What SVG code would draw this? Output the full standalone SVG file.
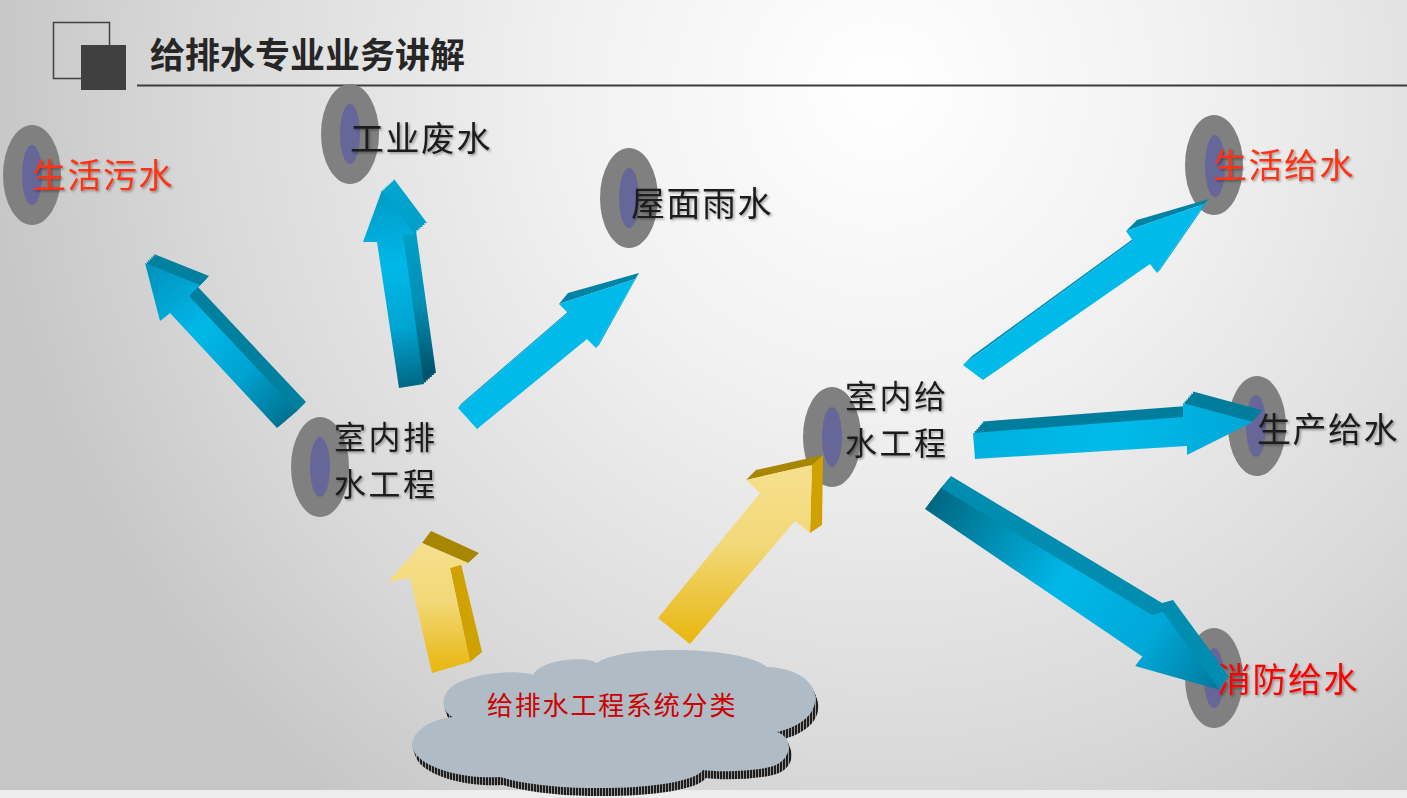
<svg xmlns="http://www.w3.org/2000/svg" xmlns:xlink="http://www.w3.org/1999/xlink" width="1407" height="798" viewBox="0 0 1407 798">
<defs>
<style>
.ring{fill:#808080}
.hole{fill:#666699}
.lbl{font-family:"Noto Sans CJK SC","Noto Sans",sans-serif;font-size:34px;letter-spacing:1.5px;filter:url(#ts)}
.two{font-size:32px;letter-spacing:2.5px}
.dk{fill:#1c1c1c}
.rd{fill:#ff3212}
.pr{fill:#ff0000}
.ytop{fill:#a88600}
.yside{fill:#cfa200}
.yfront{fill:url(#gY)}
.cyan{fill:#00bbea}
</style>
<radialGradient id="bg" gradientUnits="userSpaceOnUse" cx="880" cy="90" r="900">
<stop offset="0" stop-color="#ffffff"/>
<stop offset="0.35" stop-color="#f1f1f1"/>
<stop offset="0.75" stop-color="#d9d9d9"/>
<stop offset="1" stop-color="#c6c6c6"/>
</radialGradient>
<filter id="ts" x="-10%" y="-20%" width="130%" height="150%">
<feDropShadow dx="1.5" dy="1.5" stdDeviation="1" flood-color="#000" flood-opacity="0.35"/>
</filter>
<pattern id="stripes" patternUnits="userSpaceOnUse" width="3" height="10">
<rect width="3" height="10" fill="#1e1e1e"/>
<rect x="2" width="1" height="10" fill="#9a9a9a"/>
</pattern>
<linearGradient id="gY" x1="0" y1="0" x2="0" y2="1">
<stop offset="0" stop-color="#f6e08e"/>
<stop offset="0.45" stop-color="#f2d878"/>
<stop offset="1" stop-color="#e8b60c"/>
</linearGradient>
<linearGradient id="gA" gradientUnits="userSpaceOnUse" x1="290" y1="420" x2="145" y2="263">
<stop offset="0" stop-color="#00708f"/>
<stop offset="0.3" stop-color="#00a2d0"/>
<stop offset="0.6" stop-color="#00b8e8"/>
<stop offset="1" stop-color="#0090bb"/>
</linearGradient>
<linearGradient id="gB" gradientUnits="userSpaceOnUse" x1="412" y1="388" x2="385" y2="185">
<stop offset="0" stop-color="#006580"/>
<stop offset="0.3" stop-color="#00a5d2"/>
<stop offset="0.6" stop-color="#00b8e8"/>
<stop offset="1" stop-color="#0099c5"/>
</linearGradient>
<linearGradient id="gBs" x1="0" y1="0" x2="0" y2="1">
<stop offset="0" stop-color="#00a8d2"/>
<stop offset="0.6" stop-color="#0092b8"/>
<stop offset="1" stop-color="#005068"/>
</linearGradient>
<linearGradient id="gE" gradientUnits="userSpaceOnUse" x1="975" y1="440" x2="1255" y2="430">
<stop offset="0" stop-color="#00b0de"/>
<stop offset="0.5" stop-color="#00bbea"/>
<stop offset="1" stop-color="#00a6d6"/>
</linearGradient>
<linearGradient id="gF" gradientUnits="userSpaceOnUse" x1="930" y1="495" x2="1220" y2="690">
<stop offset="0" stop-color="#00657f"/>
<stop offset="0.45" stop-color="#00b8e8"/>
<stop offset="0.75" stop-color="#00a8d8"/>
<stop offset="1" stop-color="#00789a"/>
</linearGradient>
<polygon id="pA" points="145,263 200,285 189,296 297,411 277,428 170,313 160,321"/>
<polygon id="pB" points="382,190 415,234 403,235 424,384 399,388 377,242 363,242"/>
<polygon id="pE" points="973,433 1183,417 1183,403 1253,422 1187,455 1187,446 975,459"/>
<polygon id="pF" points="941,488 1152,615 1163,612 1220,690 1135,666 1143,657 925,509"/>
<path id="cloud" d="M453,717 C440,712 438,690 462,681 C485,672 520,670 533,675 C540,660 585,655 597,663 C620,645 740,645 767,667 C800,668 818,685 815,702 C813,718 795,728 777,732 C795,738 792,762 770,767 C750,772 715,772 703,770 C690,790 560,795 500,777 C450,780 405,760 413,740 C418,725 440,718 453,717 Z"/>
</defs>

<g id="background">
<rect width="1407" height="798" fill="url(#bg)"/>
<rect y="790" width="1407" height="8" fill="#ededed"/>
</g>

<g id="header">
<rect x="53.5" y="22.5" width="56" height="56" fill="none" stroke="#404040" stroke-width="1.5"/>
<rect x="81" y="45" width="45" height="45" fill="#404040"/>
<line x1="137" y1="85.5" x2="1407" y2="85.5" stroke="#3c3c3c" stroke-width="2"/>
<text x="150" y="68" font-family="'Noto Sans CJK SC','Noto Sans',sans-serif" font-size="35" font-weight="bold" fill="#262626">给排水专业业务讲解</text>
</g>

<g id="node-shenghuowushui">
<ellipse class="ring" cx="32" cy="175" rx="29" ry="50"/>
<ellipse class="hole" cx="32" cy="175" rx="10" ry="30"/>
<text class="lbl rd" x="32" y="188">生活污水</text>
</g>
<g id="node-gongyefeishui">
<ellipse class="ring" cx="350" cy="134" rx="29" ry="50"/>
<ellipse class="hole" cx="350" cy="134" rx="10" ry="30"/>
<text class="lbl dk" x="350" y="151">工业废水</text>
</g>
<g id="node-wumianyushui">
<ellipse class="ring" cx="629" cy="198" rx="29" ry="50"/>
<ellipse class="hole" cx="629" cy="198" rx="10" ry="30"/>
<text class="lbl dk" x="631" y="216">屋面雨水</text>
</g>
<g id="node-shineipaishui">
<ellipse class="ring" cx="320" cy="467" rx="29" ry="50"/>
<ellipse class="hole" cx="320" cy="467" rx="10" ry="30"/>
<text class="lbl two dk"><tspan x="334" y="449">室内排</tspan><tspan x="334" y="496">水工程</tspan></text>
</g>
<g id="node-shineigeishui">
<ellipse class="ring" cx="832" cy="437" rx="29" ry="50"/>
<ellipse class="hole" cx="832" cy="437" rx="10" ry="30"/>
<text class="lbl two dk"><tspan x="845" y="408">室内给</tspan><tspan x="845" y="455">水工程</tspan></text>
</g>
<g id="node-shenghuogeishui">
<ellipse class="ring" cx="1214" cy="165" rx="29" ry="50"/>
<ellipse class="hole" cx="1215" cy="166" rx="10" ry="31"/>
<text class="lbl rd" x="1213" y="178">生活给水</text>
</g>
<g id="node-shengchangeishui">
<ellipse class="ring" cx="1257" cy="426" rx="29" ry="50"/>
<ellipse class="hole" cx="1256" cy="426" rx="10" ry="31"/>
<text class="lbl dk" x="1257" y="442">生产给水</text>
</g>
<g id="node-xiaofanggeishui">
<ellipse class="ring" cx="1214" cy="678" rx="29" ry="50"/>
<ellipse class="hole" cx="1214" cy="678" rx="10" ry="30"/>
<text class="lbl pr" x="1217" y="692">消防给水</text>
</g>
<g id="node-fenlei">
<g fill="url(#stripes)">
<use xlink:href="#cloud" x="0.75" y="2"/>
<use xlink:href="#cloud" x="1.5" y="4"/>
<use xlink:href="#cloud" x="2.25" y="6"/>
<use xlink:href="#cloud" x="3" y="8"/>
</g>
<use xlink:href="#cloud" fill="#afbbc5"/>
<text x="487" y="715" font-family="'Noto Sans CJK SC','Noto Sans',sans-serif" font-size="26" letter-spacing="1.8" fill="#cc0000">给排水工程系统分类</text>
</g>

<g id="connectors">
<g id="arrow-to-shenghuowushui">
<g fill="#00809f">
<use xlink:href="#pA" x="1.5" y="-1.5"/><use xlink:href="#pA" x="3" y="-3"/><use xlink:href="#pA" x="4.5" y="-4.5"/>
<use xlink:href="#pA" x="6" y="-6"/><use xlink:href="#pA" x="7.5" y="-7.5"/><use xlink:href="#pA" x="9" y="-9"/>
</g>
<use xlink:href="#pA" fill="url(#gA)"/>
</g>
<g id="arrow-to-gongyefeishui">
<g fill="url(#gBs)">
<use xlink:href="#pB" x="2" y="-1.8"/><use xlink:href="#pB" x="4" y="-3.7"/><use xlink:href="#pB" x="6" y="-5.5"/>
<use xlink:href="#pB" x="8" y="-7.3"/><use xlink:href="#pB" x="10" y="-9.2"/><use xlink:href="#pB" x="12" y="-11"/>
</g>
<use xlink:href="#pB" fill="url(#gB)"/>
</g>
<g id="arrow-to-wumianyushui">
<polygon points="559,304 568,293 639,273 635,279" fill="#0083a5"/>
<polygon points="458,408 461,404 570,310 568,313" fill="#0095bd"/>
<polygon points="635,279 639,273 599,345 596,348" fill="#00a8d5"/>
<polygon class="cyan" points="635,279 596,348 587,339 477,429 458,408 568,313 559,304"/>
</g>
<g id="arrow-to-shenghuogeishui">
<polygon points="1126,231 1137,220 1209,199 1204,204" fill="#0083a5"/>
<polygon points="963,365 972,356 1137,236 1133,241" fill="#0092b8"/>
<polygon points="1204,204 1209,199 1160,270 1157,273" fill="#00a8d5"/>
<polygon class="cyan" points="1204,204 1157,273 1150,264 983,380 963,365 1133,241 1126,231"/>
</g>
<g id="arrow-to-shengchangeishui">
<g fill="#007d9c">
<use xlink:href="#pE" x="1.7" y="-1.9"/><use xlink:href="#pE" x="3.3" y="-3.8"/><use xlink:href="#pE" x="5" y="-5.8"/>
<use xlink:href="#pE" x="6.7" y="-7.7"/><use xlink:href="#pE" x="8.3" y="-9.6"/><use xlink:href="#pE" x="10" y="-11.5"/>
</g>
<use xlink:href="#pE" fill="url(#gE)"/>
</g>
<g id="arrow-to-xiaofanggeishui">
<g fill="#008db0">
<use xlink:href="#pF" x="1.7" y="-2"/><use xlink:href="#pF" x="3.3" y="-4"/><use xlink:href="#pF" x="5" y="-6"/>
<use xlink:href="#pF" x="6.7" y="-8"/><use xlink:href="#pF" x="8.3" y="-10"/><use xlink:href="#pF" x="10" y="-12"/>
</g>
<use xlink:href="#pF" fill="url(#gF)"/>
</g>
<g id="arrow-to-shineipaishui">
<polygon class="ytop" points="422,543 431,531 479,553 468,563"/>
<polygon class="yside" points="450,568 461,564 482,652 470,662"/>
<polygon class="yfront" points="388,582 422,543 468,563 450,568 470,662 432,673 410,578"/>
</g>
<g id="arrow-to-shineigeishui">
<polygon class="ytop" points="746,480 756,470 823,455 812,465"/>
<polygon class="yside" points="812,465 823,455 822,525 810,533"/>
<polygon class="yfront" points="658,618 760,493 746,480 812,465 810,533 795,521 690,644"/>
</g>
</g>
</svg>
